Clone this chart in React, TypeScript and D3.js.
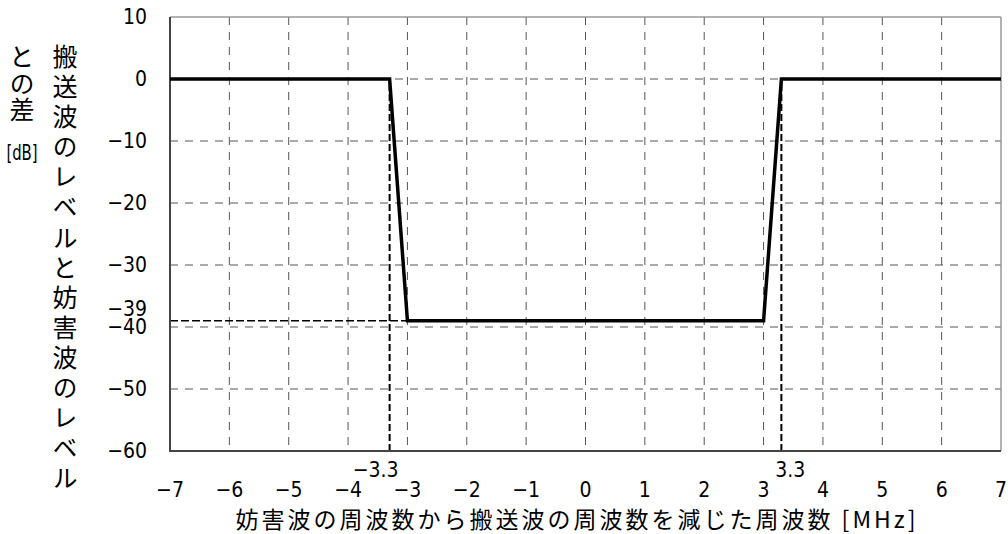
import React from "react";
import * as d3 from "d3";

const xTicks = [-7, -6, -5, -4, -3, -2, -1, 0, 1, 2, 3, 4, 5, 6, 7];
const yTicks = [10, 0, -10, -20, -30, -40, -50, -60];
const lineX = [-7, -3.3, -3, 3, 3.3, 7];
const lineY = [0, 0, -39, -39, 0, 0];
const markerX = [-3.3, 3.3];
const markerY = -39;
const yTitleMain = "搬送波のレベルと妨害波のレベル";
const yTitleSub = "との差";
const yUnit = "[dB]";
const xTitle = "妨害波の周波数から搬送波の周波数を減じた周波数 [MHz]";

const W = 1008;
const H = 534;
const L = 170, R = 1001, T = 17, B = 451;
const FONT = "'Noto Sans CJK JP', sans-serif";
const NUMFONT = "'DejaVu Sans', sans-serif";

const fmt = (v: number) => (v < 0 ? "\u2212" + String(Math.abs(v)) : String(v));

export default function App() {
  const x = d3.scaleLinear().domain([-7, 7]).range([L, R]);
  const y = d3.scaleLinear().domain([-60, 10]).range([B, T]);
  const pts = lineX.map((v, i) => [v, lineY[i]] as [number, number]);
  const path = d3.line<[number, number]>().x((d) => x(d[0])).y((d) => y(d[1]))(pts) || "";
  const numStyle = { fontFamily: NUMFONT, fontStretch: "condensed" as const };

  return (
    <svg width={W} height={H} style={{ position: "absolute", left: 0, top: 0 }} fontFamily={FONT}>
      <rect x={0} y={0} width={W} height={H} fill="#fff" />
      {/* grid */}
      {xTicks.slice(1, -1).map((t) => (
        <line key={"gx" + t} x1={x(t)} x2={x(t)} y1={T} y2={B} stroke="#555" strokeWidth={1} strokeDasharray="8,7" />
      ))}
      {yTicks.slice(1, -1).map((t) => (
        <line key={"gy" + t} x1={L} x2={R} y1={y(t)} y2={y(t)} stroke="#555" strokeWidth={1} strokeDasharray="8,7" />
      ))}
      {/* marker dashed lines */}
      {markerX.map((m) => (
        <line key={"mx" + m} x1={x(m)} x2={x(m)} y1={B} y2={y(0)} stroke="#000" strokeWidth={2} strokeDasharray="7,3" />
      ))}
      <line x1={L} x2={x(-3)} y1={y(markerY)} y2={y(markerY)} stroke="#000" strokeWidth={1.5} strokeDasharray="8,3" />
      {/* frame */}
      <line x1={L} x2={R} y1={T} y2={T} stroke="#999" strokeWidth={1.5} />
      <line x1={R} x2={R} y1={T} y2={B} stroke="#999" strokeWidth={1.5} />
      <line x1={L} x2={L} y1={T} y2={B + 1} stroke="#444" strokeWidth={2} />
      <line x1={L - 1} x2={R} y1={B} y2={B} stroke="#444" strokeWidth={2} />
      {/* data line */}
      <path d={path} fill="none" stroke="#000" strokeWidth={3.5} strokeLinejoin="miter" />
      {/* tick labels */}
      <g style={numStyle} fontSize={21} fill="#000">
        {yTicks.map((t) => (
          <text key={"yl" + t} x={147} y={y(t)} textAnchor="end" dominantBaseline="central">
            {fmt(t)}
          </text>
        ))}
        <text x={147} y={y(markerY) - 12} textAnchor="end" dominantBaseline="central">
          {fmt(markerY)}
        </text>
        {xTicks.map((t) => (
          <text key={"xl" + t} x={x(t)} y={490} textAnchor="middle" dominantBaseline="central">
            {fmt(t)}
          </text>
        ))}
        <text x={x(markerX[0]) - 14} y={470} textAnchor="middle" dominantBaseline="central">
          {fmt(markerX[0])}
        </text>
        <text x={x(markerX[1]) + 9} y={470} textAnchor="middle" dominantBaseline="central">
          {fmt(markerX[1])}
        </text>
      </g>
      {/* x title */}
      <text x={577} y={518} textAnchor="middle" dominantBaseline="central" fontSize={23} letterSpacing={3} fill="#000">
        {xTitle}
      </text>
      {/* y title (vertical) */}
      <text x={65} y={44} fontSize={25} letterSpacing={5.1} fill="#000" style={{ writingMode: "vertical-rl" }}>
        {yTitleMain}
      </text>
      <text x={22} y={44} fontSize={25} letterSpacing={1.5} fill="#000" style={{ writingMode: "vertical-rl" }}>
        {yTitleSub}
      </text>
      <text x={22} y={153} style={numStyle} fontSize={22} textAnchor="middle" dominantBaseline="central" fill="#000" transform="translate(22,153) scale(0.75,1) translate(-22,-153)">
        {yUnit}
      </text>
    </svg>
  );
}
